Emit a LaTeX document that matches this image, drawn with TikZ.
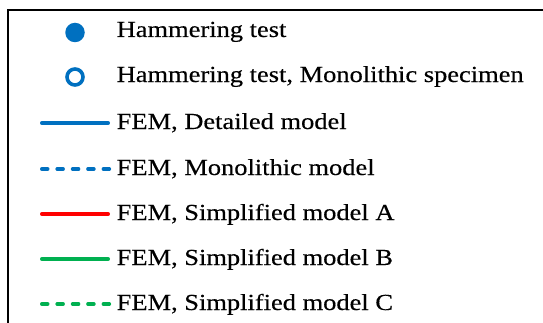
\documentclass[tikz,border=0pt]{standalone}
\usepackage{fontspec}
\setmainfont[FakeStretch=1.15,FakeBold=0.4]{Liberation Serif}
\definecolor{xblue}{RGB}{0,112,192}
\definecolor{xred}{RGB}{255,0,0}
\definecolor{xgreen}{RGB}{0,176,80}
\begin{document}
\begin{tikzpicture}[x=1pt,y=1pt,
  lab/.style={anchor=base west,inner sep=0pt,font=\fontsize{23}{27}\selectfont},
  solidline/.style={line width=3.5pt,line cap=round},
  dashline/.style={line width=3.5pt,line cap=round,dash pattern=on 6pt off 9.4pt},
  frame/.style={line width=2pt,black}]
\useasboundingbox (0,0) rectangle (543,322);
\begin{scope}
\clip (0,0) rectangle (543,322);
\coordinate (fb) at (8,-10);
\coordinate (fc) at (8,312);
\coordinate (fr) at (560,312);
\draw[frame] (fb) -- (fc) -- (fr);
\end{scope}
% markers
\node[circle,fill=xblue,inner sep=0pt,minimum size=19.5pt] (m1) at (75,289.5) {};
\node[circle,draw=xblue,line width=3.6pt,inner sep=0pt,minimum size=16pt] (m2) at (75,245) {};
\node[lab] (t1) at (116.5,285) {Hammering test};
\node[lab] (t2) at (116.5,240) {Hammering test, Monolithic specimen};
% lines
\coordinate (a1) at (41.75,199); \coordinate (b1) at (108.25,199);
\coordinate (a2) at (41.75,153); \coordinate (b2) at (109.4,153);
\coordinate (a3) at (41.75,108); \coordinate (b3) at (108.25,108);
\coordinate (a4) at (41.75,63); \coordinate (b4) at (108.25,63);
\coordinate (a5) at (41.75,18); \coordinate (b5) at (109.4,18);
\draw[solidline,xblue] (a1) -- (b1);
\draw[dashline,xblue] (a2) -- (b2);
\draw[solidline,xred] (a3) -- (b3);
\draw[solidline,xgreen] (a4) -- (b4);
\draw[dashline,xgreen] (a5) -- (b5);
\node[lab] (t3) at (116.5,193) {FEM, Detailed model};
\node[lab] (t4) at (116.5,147) {FEM, Monolithic model};
\node[lab] (t5) at (116.5,102) {FEM, Simplified model A};
\node[lab] (t6) at (116.5,57) {FEM, Simplified model B};
\node[lab] (t7) at (116.5,12) {FEM, Simplified model C};
\end{tikzpicture}
\end{document}
